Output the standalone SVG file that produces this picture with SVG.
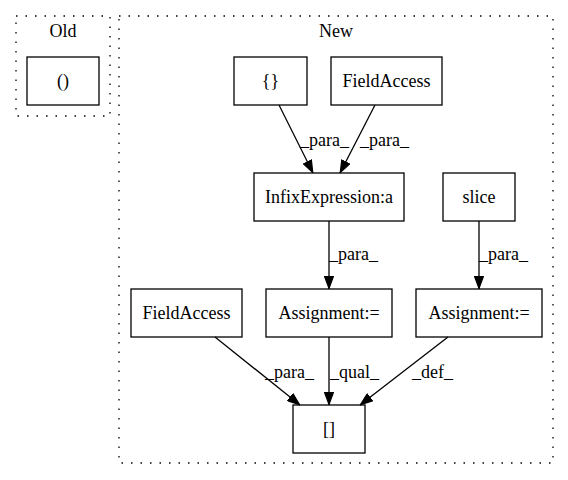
<svg xmlns="http://www.w3.org/2000/svg" width="568" height="480" viewBox="0 0 568 480">
<style>
.cl{fill:none;stroke:#000;stroke-width:1.3;stroke-dasharray:1.5,8}
.nd{fill:#fff;stroke:#000;stroke-width:1.3}
.t{font-family:'Liberation Serif','Times New Roman',Times,serif;font-size:18px;text-anchor:middle;fill:#000}
.e{fill:none;stroke:#000;stroke-width:1.3}
.lb{font-family:'Liberation Serif','Times New Roman',Times,serif;font-size:18px;fill:#000}
</style>
<defs>
<marker id="ah" viewBox="0 0 13 10" refX="13" refY="5" markerWidth="13" markerHeight="10" markerUnits="userSpaceOnUse" orient="auto">
<path d="M0.6,0.6 L12.4,5 L0.6,9.4 z" fill="#000" stroke="#000" stroke-width="1.2"/>
</marker>
</defs>
<g id="cluster_old">
<rect class="cl" x="16" y="16" width="94" height="100"/>
<text class="t" x="63" y="37">Old</text>
</g>
<g id="cluster_new">
<rect class="cl" x="119" y="16" width="434" height="447"/>
<text class="t" x="336" y="37">New</text>
</g>
<g id="n_paren">
<rect class="nd" x="27" y="57" width="72" height="48"/>
<text class="t" x="63" y="87">()</text>
</g>
<g id="n_brace">
<rect class="nd" x="234" y="57" width="73" height="48"/>
<text class="t" x="270.5" y="87">{}</text>
</g>
<g id="n_field_top">
<rect class="nd" x="331" y="57" width="111" height="48"/>
<text class="t" x="386.5" y="87">FieldAccess</text>
</g>
<g id="n_infix">
<rect class="nd" x="254" y="173" width="150" height="48"/>
<text class="t" x="329" y="203">InfixExpression:a</text>
</g>
<g id="n_slice">
<rect class="nd" x="443" y="173" width="72" height="48"/>
<text class="t" x="479" y="203">slice</text>
</g>
<g id="n_field_bot">
<rect class="nd" x="131" y="289" width="111" height="48"/>
<text class="t" x="186.5" y="319">FieldAccess</text>
</g>
<g id="n_assign1">
<rect class="nd" x="266" y="289" width="126" height="48"/>
<text class="t" x="329" y="319">Assignment:=</text>
</g>
<g id="n_assign2">
<rect class="nd" x="416" y="289" width="126" height="48"/>
<text class="t" x="479" y="319">Assignment:=</text>
</g>
<g id="n_index">
<rect class="nd" x="293" y="405" width="72" height="48"/>
<text class="t" x="329" y="435">[]</text>
</g>
<g id="edges">
<path class="e" d="M279,105 L313,173" marker-end="url(#ah)"/>
<text class="lb" x="300" y="146">_para_</text>
<path class="e" d="M375,105 L340,173" marker-end="url(#ah)"/>
<text class="lb" x="360" y="146">_para_</text>
<path class="e" d="M329,221 L329,289" marker-end="url(#ah)"/>
<text class="lb" x="329" y="260">_para_</text>
<path class="e" d="M479,221 L479,289" marker-end="url(#ah)"/>
<text class="lb" x="479" y="260">_para_</text>
<path class="e" d="M215,337 L300,405" marker-end="url(#ah)"/>
<text class="lb" x="265" y="378">_para_</text>
<path class="e" d="M329,337 L329,405" marker-end="url(#ah)"/>
<text class="lb" x="330" y="378">_qual_</text>
<path class="e" d="M448,337 L360,405" marker-end="url(#ah)"/>
<text class="lb" x="412" y="378">_def_</text>
</g>
</svg>
